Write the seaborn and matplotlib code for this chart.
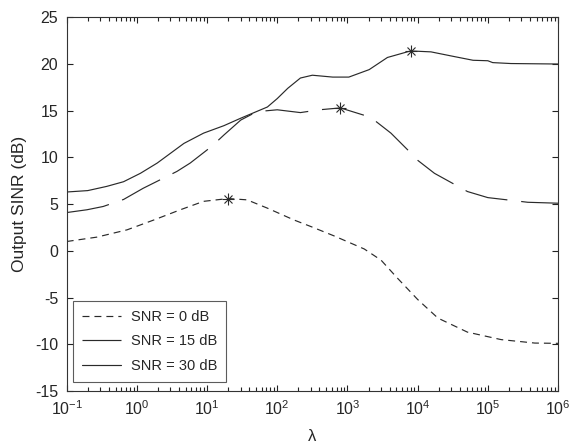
import numpy as np
import pandas as pd
import matplotlib
matplotlib.use("Agg")
import matplotlib.pyplot as plt
import seaborn as sns

# log10(lambda) sample positions and output SINR (dB) for each input SNR
snr0_loglam = [-1.0, -0.57, -0.14, 0.24, 0.62, 0.95, 1.3, 1.57, 1.86, 2.24, 2.48,
               2.81, 3.24, 3.48, 3.71, 4.0, 4.29, 4.71, 5.19, 5.67, 6.0]
snr0_sinr = [1.0, 1.47, 2.25, 3.3, 4.4, 5.3, 5.6, 5.46, 4.57, 3.3, 2.6,
             1.6, 0.2, -1.0, -2.9, -5.2, -7.2, -8.7, -9.5, -9.87, -9.9]

snr15_loglam = [-1.0, -0.71, -0.48, -0.19, 0.09, 0.33, 0.57, 0.76, 1.0, 1.09, 1.24,
                1.48, 1.71, 2.0, 2.33, 2.6, 2.9, 3.33, 3.62, 3.86, 4.0, 4.24,
                4.71, 5.0, 5.57, 6.0]
snr15_sinr = [4.1, 4.4, 4.75, 5.5, 6.7, 7.6, 8.5, 9.4, 10.8, 11.35, 12.4,
              14.0, 14.9, 15.1, 14.8, 15.1, 15.3, 14.3, 12.6, 10.8, 9.7, 8.3,
              6.35, 5.7, 5.2, 5.1]

snr30_loglam = [-1.0, -0.7, -0.43, -0.19, 0.05, 0.29, 0.67, 0.95, 1.24, 1.48, 1.86,
                2.0, 2.15, 2.33, 2.5, 2.79, 3.02, 3.31, 3.57, 3.9, 4.19, 4.52,
                4.79, 5.0, 5.07, 5.33, 6.0]
snr30_sinr = [6.3, 6.45, 6.9, 7.4, 8.3, 9.4, 11.5, 12.6, 13.4, 14.2, 15.4,
              16.3, 17.4, 18.5, 18.8, 18.6, 18.6, 19.4, 20.7, 21.4, 21.3, 20.8,
              20.4, 20.35, 20.15, 20.05, 20.0]

# maximum of each curve
peak_loglam = [1.3, 2.9, 3.9]
peak_sinr = [5.6, 15.3, 21.4]

labels = ["SNR = 0 dB", "SNR = 15 dB", "SNR = 30 dB"]
x_ticks_exp = [-1, 0, 1, 2, 3, 4, 5, 6]
y_ticks = [-15, -10, -5, 0, 5, 10, 15, 20, 25]

sns.set_style("ticks")
plt.rcParams["font.family"] = ["Liberation Sans", "DejaVu Sans"]
plt.rcParams["mathtext.fontset"] = "custom"
plt.rcParams["mathtext.rm"] = "Liberation Sans"
plt.rcParams["mathtext.default"] = "regular"
plt.rcParams["axes.unicode_minus"] = False
plt.rcParams["lines.scale_dashes"] = False

frames = []
for lab, lx, sv in zip(labels,
                       [snr0_loglam, snr15_loglam, snr30_loglam],
                       [snr0_sinr, snr15_sinr, snr30_sinr]):
    frames.append(pd.DataFrame({"lam": np.power(10.0, lx), "sinr": sv, "series": lab}))
df = pd.concat(frames, ignore_index=True)

fig = plt.figure(figsize=(5.71, 4.47), dpi=100)
ax = fig.add_axes([0.1168, 0.1253, 0.8604, 0.836])

line_color = "#2a2a2a"
sns.lineplot(data=df, x="lam", y="sinr", hue="series", style="series",
             palette={l: line_color for l in labels},
             dashes={labels[0]: (5, 3.6), labels[1]: (31, 10), labels[2]: ""},
             sort=False, estimator=None, linewidth=0.85, legend=False, ax=ax)

peaks_lam = np.power(10.0, peak_loglam)
ax.plot(peaks_lam, peak_sinr, linestyle="none", marker="+", markersize=8,
        markeredgewidth=0.8, color=line_color, zorder=5)
ax.plot(peaks_lam, peak_sinr, linestyle="none", marker="x", markersize=5.6,
        markeredgewidth=0.8, color=line_color, zorder=5)

ax.set_xscale("log")
ax.set_xlim(10.0 ** x_ticks_exp[0], 10.0 ** x_ticks_exp[-1])
ax.set_ylim(y_ticks[0], y_ticks[-1])
ax.set_xticks([10.0 ** e for e in x_ticks_exp])
ax.set_xticklabels([f"$10^{{{e}}}$" for e in x_ticks_exp])
ax.set_yticks(y_ticks)
ax.set_yticklabels([str(v) for v in y_ticks])

ax.tick_params(axis="both", which="both", direction="in", top=True, right=True,
               bottom=True, left=True, labelsize=11.5, color="#222222", width=0.8)
ax.tick_params(axis="both", which="major", length=4.5)
ax.tick_params(axis="x", which="minor", length=2.8)
ax.tick_params(axis="y", which="major", pad=6)
ax.tick_params(axis="x", which="major", pad=6)
for s in ax.spines.values():
    s.set_visible(True)
    s.set_linewidth(0.8)
    s.set_color("#333333")

ax.set_xlabel("λ", fontsize=12, labelpad=8)
ax.set_ylabel("Output SINR (dB)", fontsize=12.5, labelpad=6)

handles = ax.get_lines()[:3]
leg = ax.legend(handles, labels, loc="lower left", bbox_to_anchor=(0.0134, 0.025),
                borderaxespad=0, fontsize=10.5, handlelength=2.65, handletextpad=0.68,
                labelspacing=0.72, borderpad=0.62, frameon=True, fancybox=False)
leg.get_frame().set_edgecolor("#333333")
leg.get_frame().set_linewidth(0.8)

fig.savefig("out.png", dpi=100)
